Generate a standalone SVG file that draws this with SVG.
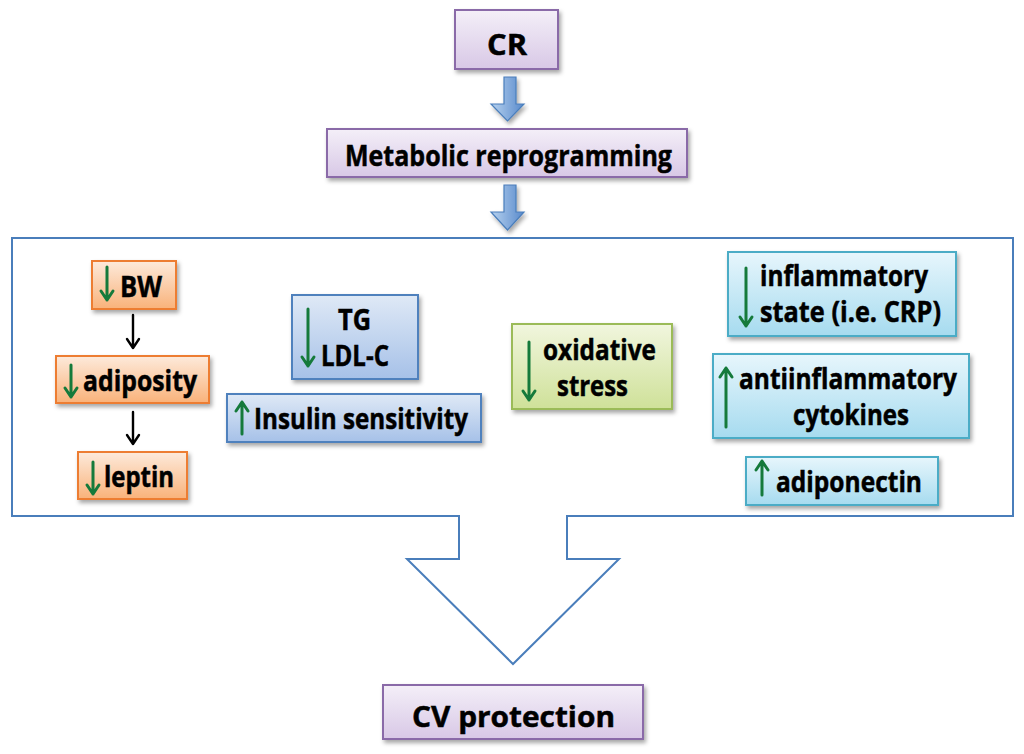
<svg xmlns="http://www.w3.org/2000/svg" width="1024" height="754" viewBox="0 0 1024 754">
<defs>
<linearGradient id="gPurple" x1="0" y1="0" x2="0" y2="1"><stop offset="0" stop-color="#f4eff8"/><stop offset="1" stop-color="#d8c8e6"/></linearGradient>
<linearGradient id="gOrange" x1="0" y1="0" x2="0" y2="1"><stop offset="0" stop-color="#fdeadb"/><stop offset="1" stop-color="#f9b27a"/></linearGradient>
<linearGradient id="gBlue" x1="0" y1="0" x2="0" y2="1"><stop offset="0" stop-color="#dfe9f6"/><stop offset="1" stop-color="#a6c1e8"/></linearGradient>
<linearGradient id="gGreen" x1="0" y1="0" x2="0" y2="1"><stop offset="0" stop-color="#f1f6de"/><stop offset="1" stop-color="#cfe199"/></linearGradient>
<linearGradient id="gCyan" x1="0" y1="0" x2="0" y2="1"><stop offset="0" stop-color="#e7f6fc"/><stop offset="1" stop-color="#a6dbef"/></linearGradient>
<linearGradient id="gArrow" x1="0" y1="0" x2="1" y2="0"><stop offset="0" stop-color="#b7d2ef"/><stop offset="1" stop-color="#5889cb"/></linearGradient>
<filter id="sh" x="-10%" y="-10%" width="125%" height="140%"><feDropShadow dx="2" dy="3" stdDeviation="2" flood-color="#000" flood-opacity="0.35"/></filter>
</defs>
<style>
.t{font-family:"Open Sans","Liberation Sans",sans-serif;font-weight:700;font-size:29px;fill:#000;stroke:#000;stroke-width:0.5}
.purple{fill:url(#gPurple);stroke:#8a6aa8;stroke-width:2}
.orange{fill:url(#gOrange);stroke:#ed7d31;stroke-width:2}
.blue{fill:url(#gBlue);stroke:#4f81bd;stroke-width:2}
.green{fill:url(#gGreen);stroke:#9bbb59;stroke-width:2}
.cyan{fill:url(#gCyan);stroke:#4bacc6;stroke-width:2}
.ga{fill:none;stroke:#157a3b;stroke-width:3;stroke-linecap:round;stroke-linejoin:round}
.ka{fill:none;stroke:#000;stroke-width:2.4;stroke-linecap:round;stroke-linejoin:round}
.barrow{fill:url(#gArrow);stroke:#4a7ebb;stroke-width:1.2}
</style>

<g id="container">
<path d="M12,238 H1013 V516 H567 V559 H619 L513,664 L407,559 H459 V516 H12 Z" fill="#fff" stroke="#4a7ebb" stroke-width="2"/>
</g>

<g id="connectors">
<polygon class="barrow" points="504,77 516,77 516,104 524,104 507.5,121 491,104 504,104" filter="url(#sh)"/>
<polygon class="barrow" points="504,185 516,185 516,212 524,212 507.5,230 491,212 504,212" filter="url(#sh)"/>
<path class="ka" d="M133,315 V348 M127,339 L133,348 L139,339"/>
<path class="ka" d="M133,412 V444 M127,435 L133,444 L139,435"/>
</g>

<g id="CR">
<rect class="purple" x="455" y="10" width="103" height="59" filter="url(#sh)"/>
<text class="t" x="487" y="55" font-size="32" textLength="40" lengthAdjust="spacingAndGlyphs">CR</text>
</g>

<g id="metabolic">
<rect class="purple" x="327" y="129" width="360" height="48" filter="url(#sh)"/>
<text class="t" x="345" y="166" font-size="30" textLength="327" lengthAdjust="spacingAndGlyphs">Metabolic reprogramming</text>
</g>

<g id="BW">
<rect class="orange" x="92" y="261" width="84" height="48" filter="url(#sh)"/>
<path class="ga" d="M107,267 V300 M101,291 L107,300 L113,291"/>
<text class="t" x="120" y="297" textLength="42" lengthAdjust="spacingAndGlyphs">BW</text>
</g>

<g id="adiposity">
<rect class="orange" x="56" y="356" width="153" height="47" filter="url(#sh)"/>
<path class="ga" d="M71,365 V397 M65,388 L71,397 L77,388"/>
<text class="t" x="83" y="391" textLength="114" lengthAdjust="spacingAndGlyphs">adiposity</text>
</g>

<g id="leptin">
<rect class="orange" x="78" y="452" width="109" height="47" filter="url(#sh)"/>
<path class="ga" d="M93,462 V494 M87,485 L93,494 L99,485"/>
<text class="t" x="104" y="487" textLength="70" lengthAdjust="spacingAndGlyphs">leptin</text>
</g>

<g id="TG">
<rect class="blue" x="292" y="295" width="126" height="84" filter="url(#sh)"/>
<path class="ga" d="M308,309 V366 M302,357 L308,366 L314,357"/>
<text class="t" x="338" y="330" textLength="33" lengthAdjust="spacingAndGlyphs">TG</text>
<text class="t" x="321" y="366" textLength="68" lengthAdjust="spacingAndGlyphs">LDL-C</text>
</g>

<g id="insulin">
<rect class="blue" x="227" y="394" width="254" height="48" filter="url(#sh)"/>
<path class="ga" d="M242,434 V402 M236,411 L242,402 L248,411"/>
<text class="t" x="254" y="429" textLength="214" lengthAdjust="spacingAndGlyphs">Insulin sensitivity</text>
</g>

<g id="oxidative">
<rect class="green" x="512" y="324" width="160" height="85" filter="url(#sh)"/>
<path class="ga" d="M529,342 V400 M523,391 L529,400 L535,391"/>
<text class="t" x="543" y="360" textLength="113" lengthAdjust="spacingAndGlyphs">oxidative</text>
<text class="t" x="557" y="396" textLength="71" lengthAdjust="spacingAndGlyphs">stress</text>
</g>

<g id="inflammatory">
<rect class="cyan" x="728" y="252" width="228" height="84" filter="url(#sh)"/>
<path class="ga" d="M746,268 V326 M740,317 L746,326 L752,317"/>
<text class="t" x="760" y="286" font-size="26.5" textLength="168" lengthAdjust="spacingAndGlyphs">inflammatory</text>
<text class="t" x="760" y="322" font-size="26.5" textLength="181" lengthAdjust="spacingAndGlyphs">state (i.e. CRP)</text>
</g>

<g id="antiinflammatory">
<rect class="cyan" x="713" y="354" width="256" height="84" filter="url(#sh)"/>
<path class="ga" d="M726,427 V368 M720,377 L726,368 L732,377"/>
<text class="t" x="739" y="389" textLength="218" lengthAdjust="spacingAndGlyphs">antiinflammatory</text>
<text class="t" x="793" y="425" textLength="116" lengthAdjust="spacingAndGlyphs">cytokines</text>
</g>

<g id="adiponectin">
<rect class="cyan" x="746" y="457" width="192" height="48" filter="url(#sh)"/>
<path class="ga" d="M762,495 V461 M756,470 L762,461 L768,470"/>
<text class="t" x="776" y="492" textLength="146" lengthAdjust="spacingAndGlyphs">adiponectin</text>
</g>

<g id="CVprotection">
<rect class="purple" x="383" y="685" width="260" height="54" filter="url(#sh)"/>
<text class="t" x="412" y="727" font-size="37" textLength="203" lengthAdjust="spacingAndGlyphs">CV protection</text>
</g>
</svg>
